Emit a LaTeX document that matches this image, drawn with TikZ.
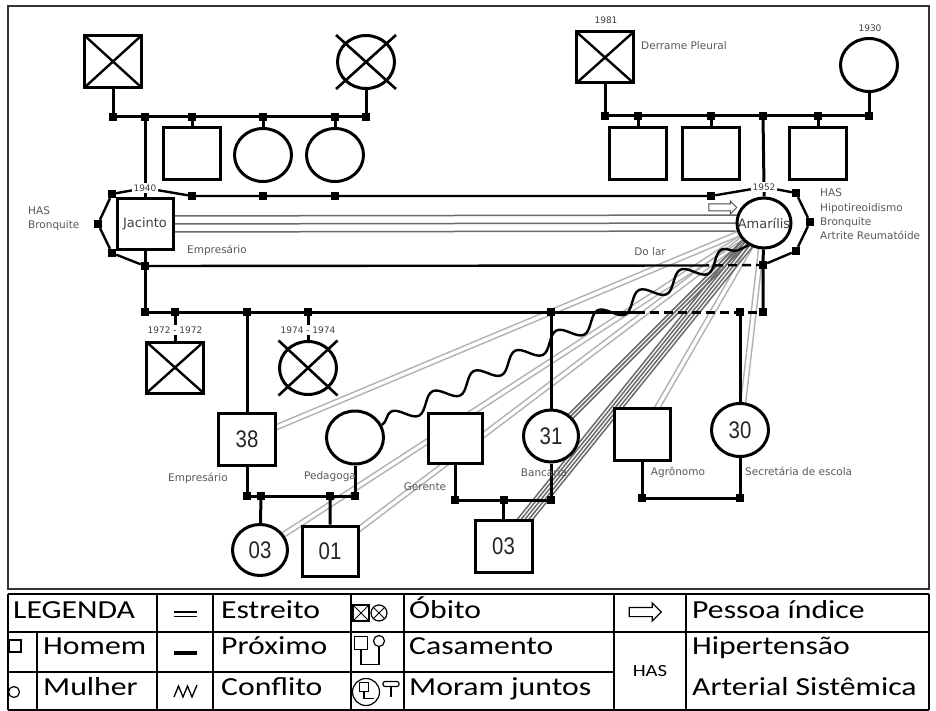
\documentclass[tikz,border=0pt]{standalone}
\usepackage{fontspec}
\newfontfamily\diagfont{DejaVu Sans}
\newfontfamily\legfont[FakeStretch=1.22]{Carlito}
\newfontfamily\agefont[FakeStretch=0.85]{Liberation Sans}
\usetikzlibrary{calc, shapes.geometric, shapes.arrows, decorations.pathmorphing, backgrounds}

\tikzset{
  famline/.style={line width=3pt},
  tabline/.style={line width=1.2pt},
  xcross/.style={path picture={\draw[line width=#1]
      (path picture bounding box.north west) -- (path picture bounding box.south east)
      (path picture bounding box.north east) -- (path picture bounding box.south west);}},
  male/.style={draw, line width=3pt, fill=white, minimum width=57pt, minimum height=52pt, inner sep=0pt},
  female/.style={draw, ellipse, line width=3pt, fill=white, minimum width=57pt, minimum height=53pt, inner sep=0pt},
  obitoq/.style={male, xcross=2.4pt},
  knot/.style={fill, minimum size=8pt, inner sep=0pt},
  infotext/.style={font=\diagfont\fontsize{10.5}{14.3}\selectfont, text=black!65, inner sep=1pt},
  yearlbl/.style={font=\diagfont\fontsize{9}{10}\selectfont, text=black!75, inner sep=1.5pt},
  who/.style={font=\diagfont\fontsize{13}{15}\selectfont, text=black!75},
  age/.style={font=\agefont\fontsize{24}{26}\selectfont, text=black!85},
  proxline/.style={draw=black!30, line width=1.4pt},
  estline/.style={draw=black!58, line width=1.5pt},
  conflito/.style={line width=2.4pt, decorate, decoration={snake, segment length=46pt, amplitude=8pt}},
  legtext/.style={font=\legfont\fontsize{26}{30}\selectfont, anchor=base west, inner sep=0pt},
}

\begin{document}
\begin{tikzpicture}[x=1pt, y=-1pt]
\useasboundingbox (0,0) rectangle (936,711);

% Jacinto's parents and siblings
\node[obitoq] (gfJ) at (113,61.5) {};
\node[female] (gmJ) at (366,62) {};
\draw[line width=2.6pt] ($(gmJ)+(-30,-27)$) -- ($(gmJ)+(30,27)$) ($(gmJ)+(30,-27)$) -- ($(gmJ)+(-30,27)$);
\foreach \x [count=\i] in {113,145,192,263,335,366}
  \node[knot] (tl\i) at (\x,117) {};
\node[male] (sib1) at (192,154) {};
\node[female] (sib2) at (263,155) {};
\node[female] (sib3) at (335,155) {};
\draw[famline] (tl1) -- (tl6);
\draw[famline] (gfJ) -- (tl1) (gmJ) -- (tl6) (tl3) -- (sib1) (tl4) -- (sib2) (tl5) -- (sib3);

% Amarilis' parents and siblings
\node[yearlbl] (y81) at (606,20) {1981};
\node[obitoq, minimum height=51pt] (gfA) at (605,57.5) {};
\node[infotext, anchor=west] (derr) at (640,46) {Derrame Pleural};
\node[yearlbl] (y30) at (870,28) {1930};
\node[female] (gmA) at (869,65) {};
\foreach \x [count=\i] in {605,638,711,763,818,869}
  \node[knot] (tr\i) at (\x,116) {};
\node[male] (sib4) at (638,154) {};
\node[male] (sib5) at (711,154) {};
\node[male] (sib6) at (818,154) {};
\draw[famline] (tr1) -- (tr6);
\draw[famline] (gfA) -- (tr1) (gmA) -- (tr6) (tr2) -- (sib4) (tr3) -- (sib5) (tr5) -- (sib6);

% the couple
\node[male, who, minimum width=56pt, minimum height=50pt] (jac) at (145,224) {Jacinto};
\node[female, minimum width=54pt, minimum height=50pt, label={[who]center:Amarílis}] (am) at (764,223) {};
\node[yearlbl] (y40) at (145,188) {1940};
\node[yearlbl] (y52) at (764,187) {1952};
\draw[famline] (tl2) -- (y40) -- (jac);
\draw[famline] (tr4) -- (y52) -- (am);
\node[single arrow, draw=black!70, fill=white, line width=1pt, inner sep=3pt,
      single arrow head extend=3pt, minimum height=28pt] (idx) at (721,207.5) {};

% household
\node[knot] (hA) at (192,196) {};
\node[knot] (hB) at (112,194) {};
\node[knot] (hC) at (98,224) {};
\node[knot] (hD) at (112,253) {};
\node[knot] (hE) at (145,266) {};
\node[knot] (hF) at (763,265) {};
\node[knot] (hG) at (711,196) {};
\node[knot] (hH) at (796,193) {};
\node[knot] (hI) at (810,222) {};
\node[knot] (hJ) at (796,251) {};
\node[knot] (hK) at (263,196) {};
\node[knot] (hL) at (335,196) {};
\coordinate (hDash) at (700,265.5);
\draw[line width=2.4pt] (hA) -- (hK) -- (hL) -- (hG) -- (y52) -- (hH) -- (hI) -- (hJ) -- (hF);
\draw[line width=2.4pt] (hA) -- (y40) -- (hB) -- (hC) -- (hD) -- (hE);
\draw[line width=2.4pt] (hE) -- (hDash);
\draw[line width=2.4pt, dash pattern=on 9pt off 5pt] (hDash) -- (hF);

\node[infotext, anchor=west, align=left] (dxJac) at (27,219) {HAS\\Bronquite};
\node[infotext, anchor=north west, align=left] (dxAm) at (819,188) {HAS\\Hipotireoidismo\\Bronquite\\Artrite Reumatóide};
\node[infotext] (ocJac) at (217,250) {Empresário};
\node[infotext] (ocAm) at (650,252) {Do lar};

% children
\foreach \x [count=\i] in {145,175,247,308,551,740,763}
  \node[knot] (ch\i) at (\x,312) {};
\coordinate (chDash) at (636,312);
\draw[famline] (jac) -- (hE) -- (ch1);
\draw[famline] (am) -- (hF) -- (ch7);
\draw[famline] (ch1) -- (chDash);
\draw[famline, dash pattern=on 9pt off 5pt] (chDash) -- (ch7);

\node[yearlbl] (y72) at (175,330) {1972 - 1972};
\node[obitoq, minimum height=51pt] (d72) at (175,367.5) {};
\draw[famline] (ch2) -- (y72) -- (d72);
\node[yearlbl] (y74) at (308,330) {1974 - 1974};
\node[female] (d74) at (308,368) {};
\draw[line width=2.6pt] ($(d74)+(-29.5,-27.5)$) -- ($(d74)+(29.5,27.5)$) ($(d74)+(29.5,-27.5)$) -- ($(d74)+(-29.5,27.5)$);
\draw[famline] (ch4) -- (y74) -- (d74);

% son 38 and his family
\node[male, age] (s38) at (247,439.5) {38};
\node[female] (ped) at (355,437.5) {};
\node[female, age, minimum width=55pt, minimum height=51pt] (c03) at (260,550) {03};
\node[male, age, minimum width=56pt, minimum height=50pt] (s01) at (330,551) {01};
\foreach \x [count=\i] in {247,261,330,355}
  \node[knot] (mA\i) at (\x,496) {};
\draw[famline] (ch3) -- (s38) -- (mA1) -- (mA4) -- (ped);
\draw[famline] (mA2) -- (c03) (mA3) -- (s01);
\node[infotext] (oc38) at (198,478) {Empresário};
\node[infotext] (ocPed) at (330,477) {Pedagoga};

% daughter 31 and her family
\node[male, minimum width=54pt, minimum height=50pt] (ger) at (455,438) {};
\node[female, age, minimum width=55pt, minimum height=52pt] (c31) at (551,436) {31};
\node[male, age] (s03) at (503.5,546) {03};
\node[knot] (mB1) at (455,500) {};
\node[knot] (mB2) at (503.5,500) {};
\node[knot] (mB3) at (551,500) {};
\draw[famline] (ch5) -- (c31) -- (mB3) -- (mB1) -- (ger);
\draw[famline] (mB2) -- (s03);
\node[infotext] (ocGer) at (425,487) {Gerente};
\node[infotext] (oc31) at (544,472) {Bancária};

% daughter 30 and her husband
\node[male, minimum width=56pt] (agr) at (642,434) {};
\node[female, age] (c30) at (740,430) {30};
\node[knot] (mC1) at (642,498) {};
\node[knot] (mC2) at (740,498) {};
\draw[famline] (ch6) -- (c30) -- (mC2) -- (mC1) -- (agr);
\node[infotext] (ocAgr) at (678,472) {Agrônomo};
\node[infotext, anchor=west] (oc30) at (744,471) {Secretária de escola};

% conflict
\draw[conflito] (ped.25) -- (am.235);

% relations, behind the people
\begin{pgfonlayer}{background}
\fill[white] (0,0) rectangle (936,711);
\foreach \o in {-8,0,8}
  \draw[estline] ($(jac)+(0,\o)$) -- ($(am)+(0,\o)$);
\foreach \tg in {s38,c03,s01,agr,c30}
  \foreach \o in {-2.5,2.5}
    \draw[proxline] ($(am)!\o pt!90:(\tg)$) -- ($(\tg)!\o pt!-90:(am)$);
\foreach \o in {-3,0,3}
  \draw[estline] ($(am)!\o pt!90:(c31)$) -- ($(c31)!\o pt!-90:(am)$);
\foreach \o in {-6,-3,0,3,6}
  \draw[estline] ($(am)!\o pt!90:(s03)$) -- ($(s03)!\o pt!-90:(am)$);
\end{pgfonlayer}

\draw[tabline, black!80] (8,6) rectangle (929,589);

% legend
\draw[tabline] (8,594) -- (929,594) (8,632) -- (929,632) (8,672) -- (614,672) (8,710) -- (929,710);
\draw[tabline] (8,594) -- (8,710) (37,632) -- (37,710);
\foreach \x in {157,213,351,404,614,686,929}
  \draw[tabline] (\x,594) -- (\x,710);

\node[legtext] (lgTitle) at (13,618) {LEGENDA};
\node[draw, tabline, minimum size=12pt, inner sep=0pt] (lgMale) at (15,646) {};
\node[legtext] (lgHomem) at (43,654) {Homem};
\node[draw, circle, tabline, minimum size=11pt, inner sep=0pt] (lgFem) at (14,692) {};
\node[legtext] (lgMulher) at (43,695) {Mulher};

\draw[line width=1.6pt] (174,612) -- (197,612) (174,616.5) -- (197,616.5);
\draw[line width=3.2pt] (174,653) -- (197,653);
\draw[line width=1.3pt] (174,697) -- (178.5,686) -- (183,697) -- (187.5,686) -- (192,697) -- (197,685);
\node[legtext] (lgEst) at (221,618) {Estreito};
\node[legtext] (lgProx) at (221,654) {Próximo};
\node[legtext] (lgConf) at (221,695) {Conflito};

\node[draw, tabline, minimum size=16pt, inner sep=0pt, xcross=1pt] (lgObQ) at (361,613) {};
\node[draw, circle, tabline, minimum size=16pt, inner sep=0pt, xcross=1pt] (lgObC) at (379,613) {};
\node[draw, tabline, minimum size=13pt, inner sep=0pt] (lgCasH) at (361,643) {};
\node[draw, circle, tabline, minimum size=11pt, inner sep=0pt] (lgCasM) at (379,641) {};
\draw[tabline] (lgCasH.south) -- ++(0,14) -| (lgCasM.south);
\node[draw, circle, tabline, minimum size=27pt, inner sep=0pt] (lgMor) at (366,692) {};
\node[draw, tabline, fill=white, minimum size=9pt, inner sep=0pt] (lgMorH) at (364,687) {};
\draw[tabline] (lgMorH.south) -- ++(0,6) -- ++(10,0);
\node[draw, tabline, rounded corners=2pt, minimum width=16pt, minimum height=5pt, inner sep=0pt] (lgMorM) at (391,684) {};
\draw[tabline] (lgMorM.south) -- ++(0,10);
\node[legtext] (lgObito) at (409,618) {Óbito};
\node[legtext] (lgCas) at (409,654) {Casamento};
\node[legtext] (lgMoram) at (409,695) {Moram juntos};

\node[single arrow, draw, tabline, inner sep=4pt, single arrow head extend=4.5pt, minimum height=32pt] (lgIdx) at (643,612) {};
\node[font=\legfont\fontsize{17}{20}\selectfont] (lgHAS) at (650,671) {HAS};
\node[legtext] (lgPessoa) at (692,618) {Pessoa índice};
\node[legtext] (lgHip) at (692,654) {Hipertensão};
\node[legtext] (lgArt) at (692,695) {Arterial Sistêmica};
\end{tikzpicture}
\end{document}
